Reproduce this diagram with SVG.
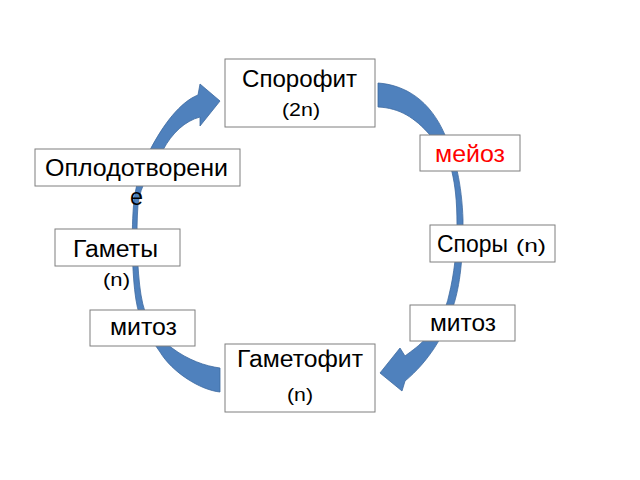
<svg xmlns="http://www.w3.org/2000/svg" width="640" height="480" viewBox="0 0 640 480">
<style>
.box{fill:#fff;stroke:#7f7f7f;stroke-width:1}
.t{font-family:"Liberation Sans",Arial,sans-serif;font-size:23px;fill:#000}
.s{font-size:19px}
.arr{fill:#4f81bd;stroke:#3d6aa0;stroke-width:0.8}
</style>
<rect width="640" height="480" fill="#fff"/>
<g id="connectors">
<path class="arr" d="M378,83 C405,85 430,100 445,135 C455,155 462,185 463,220 C463,265 459,290 452,310 C445,335 428,362 405,381 L402,391 L380,373 L400,348 L405,356 C413,350 420,345 424,340 C438,325 446,310 449,295 C454,275 457,250 457,225 C457,200 455,185 452,172 C448,158 440,145 430,135 C415,118 400,108 378,107 Z"/>
<path class="arr" d="M220,392 C200,390 172,372 160,352 C148,335 139,320 136,300 C132,275 131,230 134,200 C137,180 142,163 150,150 C163,125 180,102 198,95 L200,84 L220,101 L200,126 L200,117 C185,121 172,133 163,150 C152,168 140,185 138,205 C136,230 137,270 141,295 C145,320 155,335 172,348 C188,360 205,366 220,368 Z"/>
</g>
<g id="sporophyte">
<rect class="box" x="225" y="59" width="150" height="68"/>
<text class="t" x="242" y="87" textLength="115" lengthAdjust="spacingAndGlyphs">Спорофит</text>
<text class="t s" x="282" y="116" textLength="38" lengthAdjust="spacingAndGlyphs">(2n)</text>
</g>
<g id="meiosis">
<rect class="box" x="420" y="135" width="100" height="36"/>
<text class="t" x="435" y="162" textLength="70" lengthAdjust="spacingAndGlyphs" style="fill:#ff0000">мейоз</text>
</g>
<g id="spores">
<rect class="box" x="430" y="225" width="125" height="37"/>
<text class="t" x="437" y="252" textLength="71" lengthAdjust="spacingAndGlyphs">Споры</text>
<text class="t s" x="516" y="252" textLength="30" lengthAdjust="spacingAndGlyphs">(n)</text>
</g>
<g id="mitosis-right">
<rect class="box" x="410" y="305" width="105" height="36"/>
<text class="t" x="430" y="331" textLength="66" lengthAdjust="spacingAndGlyphs">митоз</text>
</g>
<g id="gametophyte">
<rect class="box" x="225" y="344" width="150" height="68"/>
<text class="t" x="237" y="367" textLength="126" lengthAdjust="spacingAndGlyphs">Гаметофит</text>
<text class="t s" x="287" y="401" textLength="26" lengthAdjust="spacingAndGlyphs">(n)</text>
</g>
<g id="mitosis-left">
<rect class="box" x="90" y="310" width="105" height="36"/>
<text class="t" x="110" y="335" textLength="67" lengthAdjust="spacingAndGlyphs">митоз</text>
</g>
<g id="gametes">
<rect class="box" x="55" y="229" width="125" height="37"/>
<text class="t" x="73" y="257" textLength="85" lengthAdjust="spacingAndGlyphs">Гаметы</text>
<text class="t s" x="103" y="286" textLength="27" lengthAdjust="spacingAndGlyphs">(n)</text>
</g>
<g id="fertilization">
<rect class="box" x="35" y="149" width="205" height="37"/>
<text class="t" x="45" y="176" textLength="183" lengthAdjust="spacingAndGlyphs">Оплодотворени</text>
<text class="t" x="130" y="205" textLength="13" lengthAdjust="spacingAndGlyphs">е</text>
</g>
</svg>
